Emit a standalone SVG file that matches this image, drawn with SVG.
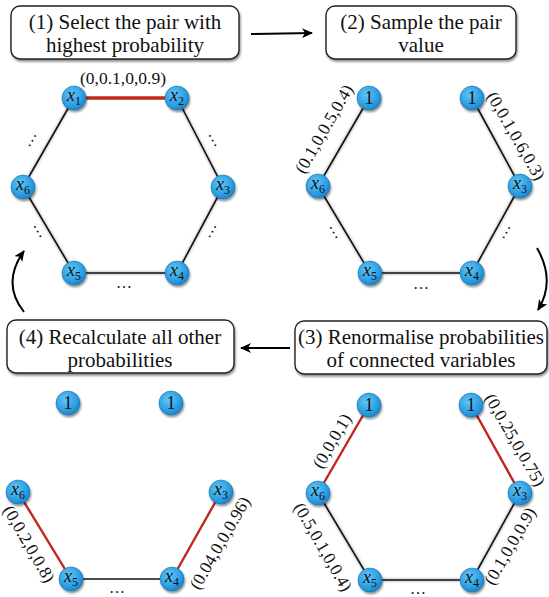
<svg xmlns="http://www.w3.org/2000/svg" width="549" height="597" viewBox="0 0 549 597">
<defs>
<radialGradient id="ng" cx="0.4" cy="0.35" r="0.7">
<stop offset="0" stop-color="#62c6f6"/>
<stop offset="0.7" stop-color="#2a9be0"/>
<stop offset="1" stop-color="#1a7fc4"/>
</radialGradient>
<filter id="sh" x="-30%" y="-30%" width="160%" height="160%">
<feGaussianBlur in="SourceAlpha" stdDeviation="1.2"/>
<feOffset dx="1" dy="1.5" result="b"/>
<feComponentTransfer><feFuncA type="linear" slope="0.45"/></feComponentTransfer>
<feMerge><feMergeNode/><feMergeNode in="SourceGraphic"/></feMerge>
</filter>
<filter id="soft" x="-10%" y="-10%" width="120%" height="120%">
<feGaussianBlur stdDeviation="0.9"/>
</filter>
<marker id="ah" markerWidth="12" markerHeight="10" refX="10" refY="5" orient="auto" markerUnits="userSpaceOnUse">
<path d="M0,0 L11,5 L0,10 L3,5 Z" fill="#000"/>
</marker>
</defs>
<style>
.box{fill:#fff;stroke:#222;stroke-width:1.4;filter:url(#sh)}
.bt{font-size:21px;fill:#111;text-anchor:middle}
.lab{font-size:17.5px;fill:#111;text-anchor:middle}
.dots{font-size:16px;fill:#111;text-anchor:middle}
.e{stroke:#111;stroke-width:1.6;fill:none}
.eh{stroke:#888;stroke-width:3.5;fill:none;opacity:0.45;filter:url(#soft)}
.r{stroke:#c0281c;stroke-width:2.4;fill:none}
.r2{stroke:#c0281c;stroke-width:3.4;fill:none}
.arr{stroke:#000;stroke-width:2;fill:none}
.node circle{fill:url(#ng);stroke:#1670b0;stroke-width:0.6;filter:url(#sh)}
.nt{font-size:18px;fill:#111;text-anchor:middle}
.nt .v{font-style:italic}
.nt .s{font-size:12px}
</style>
<g font-family="Liberation Serif, Times New Roman, serif">
<!-- step boxes -->
<g id="box1"><rect class="box" x="11" y="6" width="228" height="53" rx="9"/>
<text class="bt" x="125" y="29">(1) Select the pair with</text>
<text class="bt" x="125" y="52">highest probability</text></g>
<g id="box2"><rect class="box" x="326" y="6" width="190" height="53" rx="9"/>
<text class="bt" x="421" y="29">(2) Sample the pair</text>
<text class="bt" x="421" y="52">value</text></g>
<g id="box3"><rect class="box" x="295" y="321" width="252" height="53" rx="9"/>
<text class="bt" x="421" y="344">(3) Renormalise probabilities</text>
<text class="bt" x="421" y="367">of connected variables</text></g>
<g id="box4"><rect class="box" x="7" y="320" width="227" height="53" rx="9"/>
<text class="bt" x="120" y="344">(4) Recalculate all other</text>
<text class="bt" x="120" y="367">probabilities</text></g>

<!-- connectors -->
<g id="connectors">
<line class="arr" x1="251" y1="34" x2="312" y2="33" marker-end="url(#ah)"/>
<path class="arr" d="M537,248 Q556,281 538,310" marker-end="url(#ah)"/>
<line class="arr" x1="290" y1="348" x2="241" y2="348" marker-end="url(#ah)"/>
<path class="arr" d="M24,312 Q1,283 24,251" marker-end="url(#ah)"/>

<!-- graph A -->
<g class="eh"><path d="M74,98 L23,187 L74,273 L177,273 L223,187 L177,98"/></g>
<path class="e" d="M74,98 L23,187 L74,273 L177,273 L223,187 L177,98"/>
<line class="r2" x1="74" y1="98" x2="177" y2="98"/>
<!-- graph B -->
<g class="eh"><path d="M369,98 L318,186 L370,273 L472,273 L520,186 L472,98"/></g>
<path class="e" d="M369,98 L318,186 L370,273 L472,273 L520,186 L472,98"/>
<!-- graph C (step 3) -->
<g class="eh"><path d="M318,493 L370,580 L472,580 L520,493"/></g>
<path class="e" d="M318,493 L370,580 L472,580 L520,493"/>
<line class="r" x1="369" y1="405" x2="318" y2="493"/>
<line class="r" x1="471" y1="405" x2="520" y2="493"/>
<!-- graph D (step 4) -->
<g class="eh"><path d="M71,579 L172,579"/></g>
<line class="e" x1="71" y1="579" x2="172" y2="579"/>
<line class="r" x1="18" y1="492" x2="71" y2="579"/>
<line class="r" x1="172" y1="579" x2="221" y2="492"/>
</g>

<!-- edge labels and dots -->
<g id="labels">
<text class="lab" x="123" y="84">(0,0.1,0,0.9)</text>
<text class="dots" transform="translate(33,141) rotate(-60)">…</text>
<text class="dots" transform="translate(212,141) rotate(60)">…</text>
<text class="dots" transform="translate(37,232) rotate(60)">…</text>
<text class="dots" transform="translate(213,232) rotate(-60)">…</text>
<text class="dots" x="124" y="288">…</text>

<text class="lab" transform="translate(324,129) rotate(-60)" dy="0.33em">(0.1,0,0.5,0.4)</text>
<text class="lab" transform="translate(516,136) rotate(60)" dy="0.33em">(0,0.1,0.6,0.3)</text>
<text class="dots" transform="translate(333,233) rotate(60)">…</text>
<text class="dots" transform="translate(507,233) rotate(-60)">…</text>
<text class="dots" x="421" y="289">…</text>

<text class="lab" transform="translate(332,441) rotate(-60)" dy="0.33em">(0,0,0,1)</text>
<text class="lab" transform="translate(515,440) rotate(60)" dy="0.33em">(0,0.25,0,0.75)</text>
<text class="lab" transform="translate(323,547) rotate(60)" dy="0.33em">(0.5,0.1,0,0.4)</text>
<text class="lab" transform="translate(510,546) rotate(-60)" dy="0.33em">(0.1,0,0,0.9)</text>
<text class="dots" x="418" y="594">…</text>

<text class="lab" transform="translate(29,544) rotate(60)" dy="0.33em">(0,0.2,0,0.8)</text>
<text class="lab" transform="translate(220,543) rotate(-60)" dy="0.33em">(0.04,0,0,0.96)</text>
<text class="dots" x="117" y="593">…</text>
</g>

<!-- nodes: graph A -->
<g id="a_x1" class="node"><circle cx="74" cy="98" r="12"/><text class="nt" x="74" y="101"><tspan class="v">x</tspan><tspan class="s" dy="4">1</tspan></text></g>
<g id="a_x2" class="node"><circle cx="177" cy="98" r="12"/><text class="nt" x="177" y="101"><tspan class="v">x</tspan><tspan class="s" dy="4">2</tspan></text></g>
<g id="a_x3" class="node"><circle cx="223" cy="187" r="12"/><text class="nt" x="223" y="190"><tspan class="v">x</tspan><tspan class="s" dy="4">3</tspan></text></g>
<g id="a_x4" class="node"><circle cx="177" cy="273" r="12"/><text class="nt" x="177" y="276"><tspan class="v">x</tspan><tspan class="s" dy="4">4</tspan></text></g>
<g id="a_x5" class="node"><circle cx="74" cy="273" r="12"/><text class="nt" x="74" y="276"><tspan class="v">x</tspan><tspan class="s" dy="4">5</tspan></text></g>
<g id="a_x6" class="node"><circle cx="23" cy="187" r="12"/><text class="nt" x="23" y="190"><tspan class="v">x</tspan><tspan class="s" dy="4">6</tspan></text></g>

<!-- nodes: graph B -->
<g id="b_n1" class="node"><circle cx="369" cy="98" r="12"/><text class="nt" x="369" y="104">1</text></g>
<g id="b_n2" class="node"><circle cx="472" cy="98" r="12"/><text class="nt" x="472" y="104">1</text></g>
<g id="b_x3" class="node"><circle cx="520" cy="186" r="12"/><text class="nt" x="520" y="189"><tspan class="v">x</tspan><tspan class="s" dy="4">3</tspan></text></g>
<g id="b_x4" class="node"><circle cx="472" cy="273" r="12"/><text class="nt" x="472" y="276"><tspan class="v">x</tspan><tspan class="s" dy="4">4</tspan></text></g>
<g id="b_x5" class="node"><circle cx="370" cy="273" r="12"/><text class="nt" x="370" y="276"><tspan class="v">x</tspan><tspan class="s" dy="4">5</tspan></text></g>
<g id="b_x6" class="node"><circle cx="318" cy="186" r="12"/><text class="nt" x="318" y="189"><tspan class="v">x</tspan><tspan class="s" dy="4">6</tspan></text></g>

<!-- nodes: graph C -->
<g id="c_n1" class="node"><circle cx="369" cy="405" r="12"/><text class="nt" x="369" y="411">1</text></g>
<g id="c_n2" class="node"><circle cx="471" cy="405" r="12"/><text class="nt" x="471" y="411">1</text></g>
<g id="c_x3" class="node"><circle cx="520" cy="493" r="12"/><text class="nt" x="520" y="496"><tspan class="v">x</tspan><tspan class="s" dy="4">3</tspan></text></g>
<g id="c_x4" class="node"><circle cx="472" cy="580" r="12"/><text class="nt" x="472" y="583"><tspan class="v">x</tspan><tspan class="s" dy="4">4</tspan></text></g>
<g id="c_x5" class="node"><circle cx="370" cy="580" r="12"/><text class="nt" x="370" y="583"><tspan class="v">x</tspan><tspan class="s" dy="4">5</tspan></text></g>
<g id="c_x6" class="node"><circle cx="318" cy="493" r="12"/><text class="nt" x="318" y="496"><tspan class="v">x</tspan><tspan class="s" dy="4">6</tspan></text></g>

<!-- nodes: graph D -->
<g id="d_n1" class="node"><circle cx="68" cy="403" r="12"/><text class="nt" x="68" y="409">1</text></g>
<g id="d_n2" class="node"><circle cx="171" cy="403" r="12"/><text class="nt" x="171" y="409">1</text></g>
<g id="d_x3" class="node"><circle cx="221" cy="492" r="12"/><text class="nt" x="221" y="495"><tspan class="v">x</tspan><tspan class="s" dy="4">3</tspan></text></g>
<g id="d_x4" class="node"><circle cx="172" cy="579" r="12"/><text class="nt" x="172" y="582"><tspan class="v">x</tspan><tspan class="s" dy="4">4</tspan></text></g>
<g id="d_x5" class="node"><circle cx="71" cy="579" r="12"/><text class="nt" x="71" y="582"><tspan class="v">x</tspan><tspan class="s" dy="4">5</tspan></text></g>
<g id="d_x6" class="node"><circle cx="18" cy="492" r="12"/><text class="nt" x="18" y="495"><tspan class="v">x</tspan><tspan class="s" dy="4">6</tspan></text></g>
</g>
</svg>
